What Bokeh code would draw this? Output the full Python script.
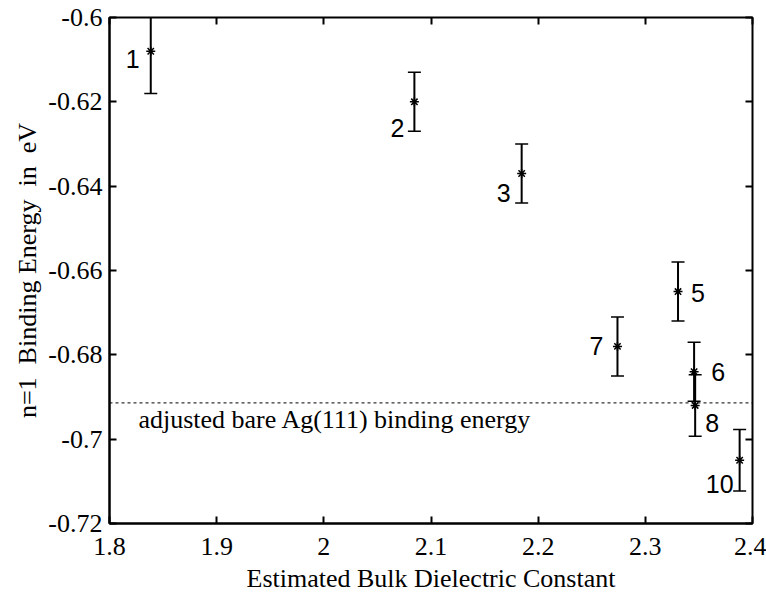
from bokeh.plotting import figure
from bokeh.models import (ColumnDataSource, Range1d, FixedTicker, LinearAxis,
                          Whisker, TeeHead, Span)
from bokeh.core.properties import value
from bokeh.embed import file_html
from bokeh.resources import INLINE
import numpy as np

# ---- data ----
point_labels = ["1", "2", "3", "5", "6", "7", "8", "10"]
dielectric = [1.8385, 2.0845, 2.1846, 2.3305, 2.3455, 2.2740, 2.3465, 2.3880]
binding_energy = [-0.608, -0.620, -0.637, -0.665, -0.684, -0.678, -0.692, -0.705]
energy_error = [0.010, 0.007, 0.007, 0.007, 0.007, 0.007, 0.0073, 0.0073]
bare_energy = -0.6914
bare_label = "adjusted bare Ag(111) binding energy"

x_ticks = [1.8, 1.9, 2.0, 2.1, 2.2, 2.3, 2.4]
x_tick_labels = ["1.8", "1.9", "2", "2.1", "2.2", "2.3", "2.4"]
y_ticks = [-0.72, -0.70, -0.68, -0.66, -0.64, -0.62, -0.60]
y_tick_labels = ["-0.72", "-0.7", "-0.68", "-0.66", "-0.64", "-0.62", "-0.6"]

# label placement (screen-pixel offsets from each point)
label_dx = [-18, -17, -18, 20, 24, -21, 17, -20]
label_dy = [8, 26, 19, 1, 0, 0, 18, 24]

SERIF = "Liberation Serif"
SANS = "Liberation Sans"

e = np.array(energy_error)
yv = np.array(binding_energy)
src = ColumnDataSource(dict(x=dielectric, y=binding_energy,
                            upper=yv + e, lower=yv - e,
                            lab=point_labels, dx=label_dx, dy=label_dy))

p = figure(frame_width=643, frame_height=506, output_backend="svg",
           toolbar_location=None, x_range=Range1d(1.8, 2.4),
           y_range=Range1d(-0.72, -0.6),
           min_border_left=109, min_border_right=14,
           min_border_top=17, min_border_bottom=74)
p.grid.visible = False
p.outline_line_color = "black"
p.outline_line_width = 2
p.background_fill_color = "white"
p.border_fill_color = "white"


def style_axis(ax, ticks, labels, show_labels=True):
    ax.ticker = FixedTicker(ticks=ticks)
    ax.major_label_overrides = {t: l for t, l in zip(ticks, labels)}
    ax.major_tick_in = 7
    ax.major_tick_out = 0
    ax.minor_tick_in = 0
    ax.minor_tick_out = 0
    ax.major_tick_line_width = 2
    ax.axis_line_width = 2
    ax.major_label_text_font = SERIF
    ax.major_label_text_font_size = "26px"
    ax.major_label_text_color = "black"
    ax.axis_label_text_font = SERIF
    ax.axis_label_text_font_size = "26px"
    ax.axis_label_text_font_style = "normal"
    ax.axis_label_text_color = "black"
    if not show_labels:
        ax.major_label_text_font_size = "0px"
        ax.major_label_standoff = 0
        ax.axis_line_color = None


style_axis(p.xaxis[0], x_ticks, x_tick_labels)
style_axis(p.yaxis[0], y_ticks, y_tick_labels)
p.xaxis.axis_label = "Estimated Bulk Dielectric Constant"
p.yaxis.axis_label = "n=1\u00a0\u00a0Binding Energy\u00a0\u00a0in\u00a0\u00a0eV"
p.xaxis.major_label_standoff = 14
p.xaxis.axis_label_standoff = 6
p.yaxis.major_label_standoff = 7
p.yaxis.axis_label_standoff = 3

ax_r = LinearAxis()
style_axis(ax_r, y_ticks, y_tick_labels, show_labels=False)
p.add_layout(ax_r, "right")
ax_t = LinearAxis()
style_axis(ax_t, x_ticks, x_tick_labels, show_labels=False)
p.add_layout(ax_t, "above")

# bare Ag(111) reference line
p.add_layout(Span(location=bare_energy, dimension="width", line_color="black",
                  line_width=1, line_dash="3 3"))
p.text(x=[1.827], y=[bare_energy], text=[bare_label], x_offset=0, y_offset=17,
       text_font=value(SERIF), text_font_size="26px", text_baseline="middle",
       text_align="left", text_color="black")

# error bars
wh = Whisker(source=src, base="x", upper="upper", lower="lower",
             line_color="black", line_width=2,
             upper_head=TeeHead(size=13, line_color="black", line_width=1.5),
             lower_head=TeeHead(size=13, line_color="black", line_width=1.5))
p.add_layout(wh)

p.scatter("x", "y", source=src, marker="asterisk", size=9, line_color="black",
          line_width=1.5)

p.text("x", "y", text="lab", source=src, x_offset="dx", y_offset="dy",
       text_font=value(SANS), text_font_size="25px", text_align="center",
       text_baseline="middle", text_color="black")

open("out.html", "w").write(file_html(p, INLINE))
